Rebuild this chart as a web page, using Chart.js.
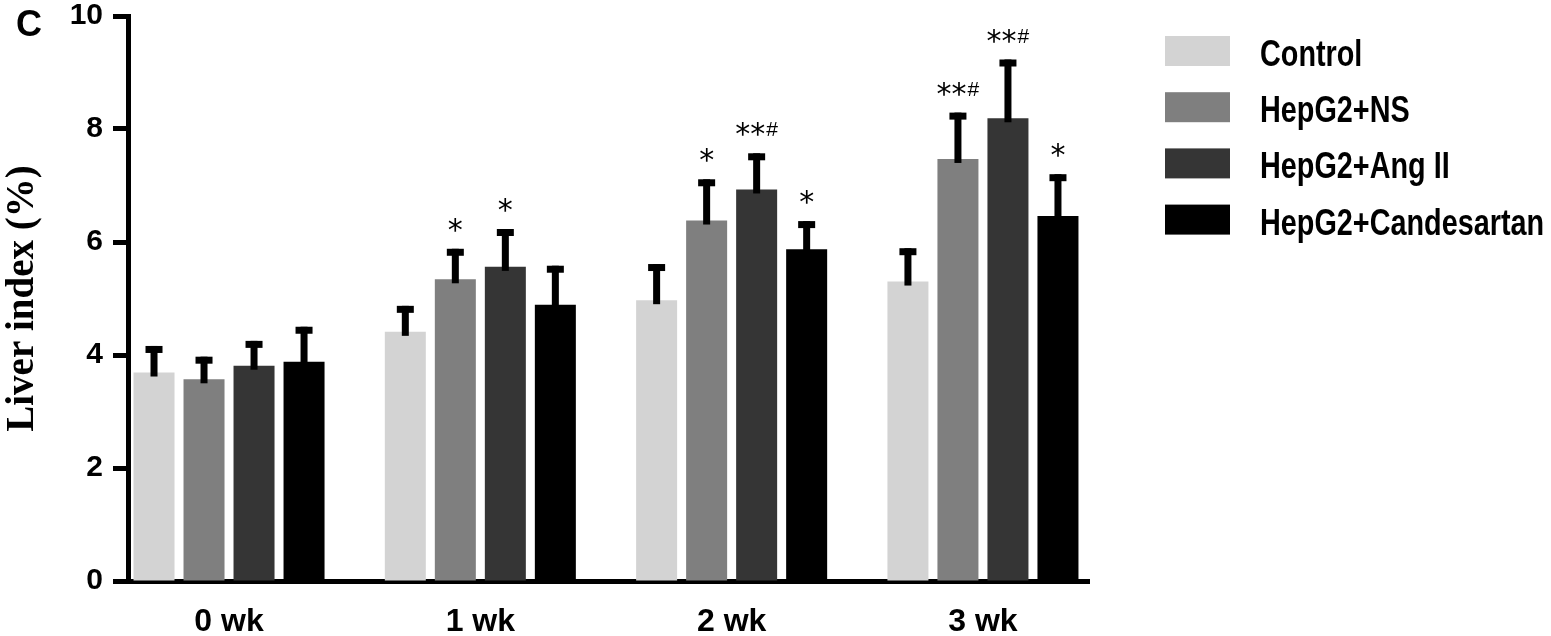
<!DOCTYPE html>
<html>
<head>
<meta charset="utf-8">
<script src="https://cdn.jsdelivr.net/npm/chart.js@4/dist/chart.umd.min.js"></script>
<style>
  html, body { margin: 0; padding: 0; background: #fff; }
  #chart { display: block; }
</style>
</head>
<body>
<canvas id="chart" width="1551" height="636"></canvas>
<script>
"use strict";

// values (mean and SEM, liver index %)
var weeks = ['0 wk', '1 wk', '2 wk', '3 wk'];
var groups = ['Control', 'HepG2+NS', 'HepG2+Ang II', 'HepG2+Candesartan'];

var controlMean = [3.69, 4.41, 4.97, 5.30];
var controlSem = [0.47, 0.46, 0.64, 0.59];
var nsMean = [3.57, 5.34, 6.38, 7.47];
var nsSem = [0.40, 0.54, 0.73, 0.82];
var angMean = [3.81, 5.56, 6.93, 8.19];
var angSem = [0.44, 0.67, 0.64, 1.04];
var candMean = [3.88, 4.89, 5.87, 6.46];
var candSem = [0.62, 0.69, 0.50, 0.74];

// significance marks above each bar
var controlMarks = ['', '', '', ''];
var nsMarks = ['', '*', '*', '**#'];
var angMarks = ['', '*', '**#', '**#'];
var candMarks = ['', '', '*', '*'];

var groupColors = ['#d3d3d3', '#7f7f7f', '#353535', '#000000'];

function points(values) {
  return values.map(function(v, i) { return { x: i, y: v }; });
}

function makeDataset(idx, mean, sem, marks) {
  return {
    label: groups[idx],
    data: points(mean),
    errors: sem,
    marks: marks,
    backgroundColor: groupColors[idx],
    borderWidth: 0
  };
}

var errorBars = {
  id: 'errorBars',
  afterDatasetsDraw: function(chart, args, o) {
    var ctx = chart.ctx;
    var yScale = chart.scales.y;
    ctx.save();
    chart.data.datasets.forEach(function(ds, i) {
      var meta = chart.getDatasetMeta(i);
      meta.data.forEach(function(bar, j) {
        var top = yScale.getPixelForValue(ds.data[j].y + ds.errors[j]);
        ctx.fillStyle = '#000';
        ctx.fillRect(bar.x - o.stemWidth / 2, top, o.stemWidth, bar.y - top + o.overlap);
        ctx.fillRect(bar.x - o.capWidth / 2, top, o.capWidth, o.capHeight);

        var mark = ds.marks[j];
        if (!mark) return;
        var stars = mark.replace(/#/g, '');
        var hash = mark.indexOf('#') >= 0 ? '#' : '';
        ctx.font = o.starFont;
        var sw = ctx.measureText(stars).width;
        ctx.font = o.hashFont;
        var hw = hash ? ctx.measureText(hash).width + o.hashGap : 0;
        var x0 = bar.x - (sw + hw) / 2;
        ctx.textAlign = 'left';
        ctx.textBaseline = 'alphabetic';
        ctx.font = o.starFont;
        ctx.fillText(stars, x0, top - o.starLift);
        if (hash) {
          ctx.font = o.hashFont;
          ctx.fillText(hash, x0 + sw + o.hashGap, top - o.hashLift);
        }
      });
    });
    ctx.restore();
  }
};

var sideLegend = {
  id: 'sideLegend',
  afterDraw: function(chart, args, o) {
    var ctx = chart.ctx;
    ctx.save();
    chart.data.datasets.forEach(function(ds, i) {
      var top = o.top + i * o.rowGap;
      ctx.fillStyle = ds.backgroundColor;
      ctx.fillRect(o.x, top, o.boxWidth, o.boxHeight);
      ctx.save();
      ctx.fillStyle = '#000';
      ctx.font = o.font;
      ctx.textBaseline = 'alphabetic';
      ctx.translate(o.textX, top + o.boxHeight + o.textDrop);
      ctx.scale(o.squeeze, 1);
      ctx.fillText(ds.label, 0, 0);
      ctx.restore();
    });
    ctx.restore();
  }
};

var panelLetter = {
  id: 'panelLetter',
  afterDraw: function(chart, args, o) {
    var ctx = chart.ctx;
    ctx.save();
    ctx.fillStyle = '#000';
    ctx.font = o.font;
    ctx.textBaseline = 'alphabetic';
    ctx.fillText(o.text, o.x, o.y);
    ctx.restore();
  }
};

new Chart(document.getElementById('chart'), {
  type: 'bar',
  data: {
    datasets: [
      makeDataset(0, controlMean, controlSem, controlMarks),
      makeDataset(1, nsMean, nsSem, nsMarks),
      makeDataset(2, angMean, angSem, angMarks),
      makeDataset(3, candMean, candSem, candMarks)
    ]
  },
  plugins: [errorBars, sideLegend, panelLetter],
  options: {
    responsive: false,
    animation: false,
    devicePixelRatio: 1,
    categoryPercentage: 0.796,
    barPercentage: 0.82,
    layout: { padding: { left: 0, top: 16, right: 462, bottom: 0 } },
    plugins: {
      legend: { display: false },
      tooltip: { enabled: false },
      errorBars: {
        stemWidth: 7, capWidth: 17, capHeight: 7, overlap: 4,
        starFont: '30px "DejaVu Sans"', hashFont: '21px "Liberation Sans"',
        starLift: 9, hashLift: 17, hashGap: 1
      },
      sideLegend: {
        x: 1165, top: 36, rowGap: 56.2, boxWidth: 65, boxHeight: 30,
        textX: 1260, textDrop: 0, squeeze: 0.8,
        font: 'bold 36px "Liberation Sans"'
      },
      panelLetter: { text: 'C', x: 16, y: 36, font: 'bold 36px "Liberation Sans"' }
    },
    scales: {
      x: {
        type: 'linear',
        min: -0.402,
        max: 3.422,
        offset: false,
        z: 1,
        afterBuildTicks: function(axis) {
          axis.ticks = weeks.map(function(w, i) { return { value: i }; });
        },
        afterFit: function(axis) {
          axis.height = 55;
          axis.paddingLeft = 0;
          axis.paddingRight = 0;
        },
        grid: { display: false, offset: false },
        border: { display: true, width: 5, color: '#000' },
        ticks: {
          color: '#000',
          padding: 14,
          maxRotation: 0,
          autoSkip: false,
          font: { family: 'Liberation Sans', size: 32, weight: 'bold' },
          callback: function(value) { return weeks[value]; }
        }
      },
      y: {
        min: 0,
        max: 10,
        z: 1,
        afterFit: function(axis) {
          axis.width = 128;
          axis.paddingTop = 0;
          axis.paddingBottom = 0;
        },
        grid: {
          display: true, drawOnChartArea: false, drawTicks: true,
          tickLength: 15, tickWidth: 5, tickColor: '#000'
        },
        border: { display: true, width: 5, color: '#000' },
        ticks: {
          stepSize: 2,
          color: '#000',
          padding: 10,
          font: { family: 'Liberation Sans', size: 30, weight: 'bold' }
        },
        title: {
          display: true,
          text: 'Liver index (%)',
          color: '#000',
          padding: 0,
          font: { family: 'Liberation Serif', size: 39, weight: 'bold' }
        }
      }
    }
  }
});
</script>
</body>
</html>
